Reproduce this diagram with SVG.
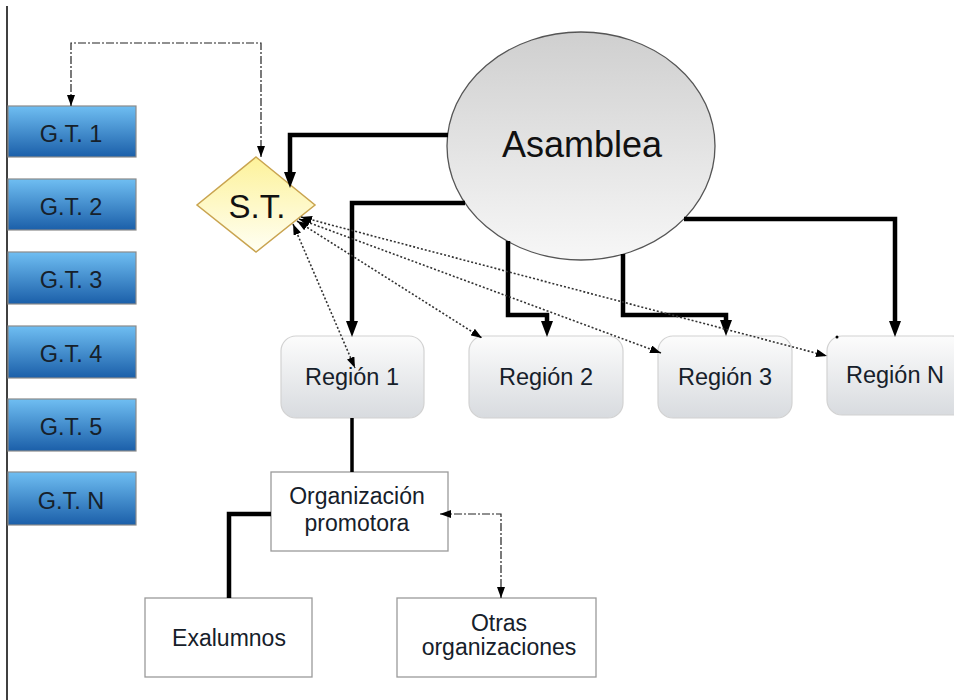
<svg xmlns="http://www.w3.org/2000/svg" width="954" height="700" viewBox="0 0 954 700">
<defs>
<linearGradient id="gBlue" x1="0" y1="0" x2="0" y2="1"><stop offset="0" stop-color="#6fbef2"/><stop offset="1" stop-color="#1b5fa9"/></linearGradient>
<linearGradient id="gDiam" x1="0" y1="0" x2="0" y2="1"><stop offset="0" stop-color="#fdf29a"/><stop offset="1" stop-color="#fffff4"/></linearGradient>
<linearGradient id="gEll" x1="0" y1="0" x2="0" y2="1"><stop offset="0" stop-color="#cfcfcf"/><stop offset="1" stop-color="#f7f7f7"/></linearGradient>
<linearGradient id="gReg" x1="0" y1="0" x2="0" y2="1"><stop offset="0" stop-color="#fcfcfc"/><stop offset="1" stop-color="#d8dbdf"/></linearGradient>
<marker id="aThick" markerUnits="userSpaceOnUse" markerWidth="16" markerHeight="12" refX="2" refY="6" orient="auto"><path d="M0,0 L16,6 L0,12 z" fill="#000"/></marker>
<marker id="aSmall" markerUnits="userSpaceOnUse" markerWidth="11" markerHeight="8" refX="11" refY="4" orient="auto-start-reverse"><path d="M0,0 L11,4 L0,8 z" fill="#000"/></marker>
<style>
.gt rect{fill:url(#gBlue);stroke:#8a8a8a;stroke-width:1.2}
.gt text{font-family:"Liberation Sans",Arial,sans-serif;font-size:23.5px;fill:#16202a;text-anchor:middle}
.reg rect{fill:url(#gReg);stroke:#d2d2d2;stroke-width:1.2}
.reg text{font-family:"Liberation Sans",Arial,sans-serif;font-size:23.5px;fill:#16202a;text-anchor:middle}
.box rect{fill:#fff;stroke:#9a9a9a;stroke-width:1.3}
.box text{font-family:"Liberation Sans",Arial,sans-serif;font-size:23px;fill:#16202a;text-anchor:middle}
.thick{fill:none;stroke:#000;stroke-width:4.5}
.dot{fill:none;stroke:#333;stroke-width:1.6;stroke-dasharray:2,2;marker-start:url(#aSmall);marker-end:url(#aSmall)}
.dd{fill:none;stroke:#222;stroke-width:1.2;stroke-dasharray:8,2,2,2;marker-start:url(#aSmall);marker-end:url(#aSmall)}
</style>
</defs>
<rect width="954" height="700" fill="#fff"/>
<line x1="7" y1="6" x2="7" y2="700" stroke="#000" stroke-width="1.5"/>

<g id="gt1" class="gt"><rect x="8" y="106" width="128" height="51"/><text x="71" y="142">G.T. 1</text></g>
<g id="gt2" class="gt"><rect x="8" y="179" width="128" height="51"/><text x="71" y="215">G.T. 2</text></g>
<g id="gt3" class="gt"><rect x="8" y="252" width="128" height="52"/><text x="71" y="288">G.T. 3</text></g>
<g id="gt4" class="gt"><rect x="8" y="326" width="128" height="52"/><text x="71" y="362">G.T. 4</text></g>
<g id="gt5" class="gt"><rect x="8" y="399" width="128" height="52"/><text x="71" y="435">G.T. 5</text></g>
<g id="gtn" class="gt"><rect x="8" y="472" width="128" height="53"/><text x="71" y="509">G.T. N</text></g>

<g id="st"><polygon points="256,157 315,205 256,252 197,205" fill="url(#gDiam)" stroke="#c9a450" stroke-width="1.5"/><text x="257" y="218" font-family="Liberation Sans, Arial, sans-serif" font-size="33" fill="#111" text-anchor="middle">S.T.</text></g>

<g id="asamblea"><ellipse cx="581" cy="146" rx="134" ry="114" fill="url(#gEll)" stroke="#555" stroke-width="1.3"/><text x="582" y="157" font-family="Liberation Sans, Arial, sans-serif" font-size="36" fill="#111" text-anchor="middle">Asamblea</text></g>

<g id="region1" class="reg"><rect x="281" y="336" width="143" height="82" rx="15"/><text x="352" y="385">Región 1</text></g>
<g id="region2" class="reg"><rect x="469" y="336" width="154" height="82" rx="15"/><text x="546" y="385">Región 2</text></g>
<g id="region3" class="reg"><rect x="658" y="336" width="134" height="82" rx="15"/><text x="725" y="385">Región 3</text></g>
<g id="regionN" class="reg"><rect x="827" y="336" width="140" height="79" rx="15"/><text x="895" y="383">Región N</text><circle cx="837" cy="337" r="1.5" fill="#000" stroke="none"/></g>

<g id="orgprom" class="box"><rect x="271" y="472" width="177" height="79"/><text x="357" y="504">Organización</text><text x="357" y="531">promotora</text></g>
<g id="exalumnos" class="box"><rect x="145" y="598" width="167" height="79"/><text x="229" y="646">Exalumnos</text></g>
<g id="otras" class="box"><rect x="397" y="598" width="199" height="79"/><text x="499" y="631">Otras</text><text x="499" y="655">organizaciones</text></g>

<g id="connectors">
<path class="thick" d="M448,135 H290 V174" marker-end="url(#aThick)"/>
<path class="thick" d="M465,203 H352 V323" marker-end="url(#aThick)"/>
<path class="thick" d="M508,241 V315 H547 V323" marker-end="url(#aThick)"/>
<path class="thick" d="M623,254 V315 H726 V322" marker-end="url(#aThick)"/>
<path class="thick" d="M684,219 H895 V323" marker-end="url(#aThick)"/>
<path class="dot" d="M293,224 L355,368"/>
<path class="dot" d="M297,221 L482,338"/>
<path class="dot" d="M299,219 L661,353"/>
<path class="dot" d="M301,217 L827,356"/>
<path class="dd" d="M71,106 V43 H261 V157"/>
<path class="dd" d="M440,514 H501 V598"/>
<path fill="none" stroke="#000" stroke-width="3.5" d="M352,418 V472"/>
<path class="thick" d="M271,514 H229 V598"/>
</g>
</svg>
